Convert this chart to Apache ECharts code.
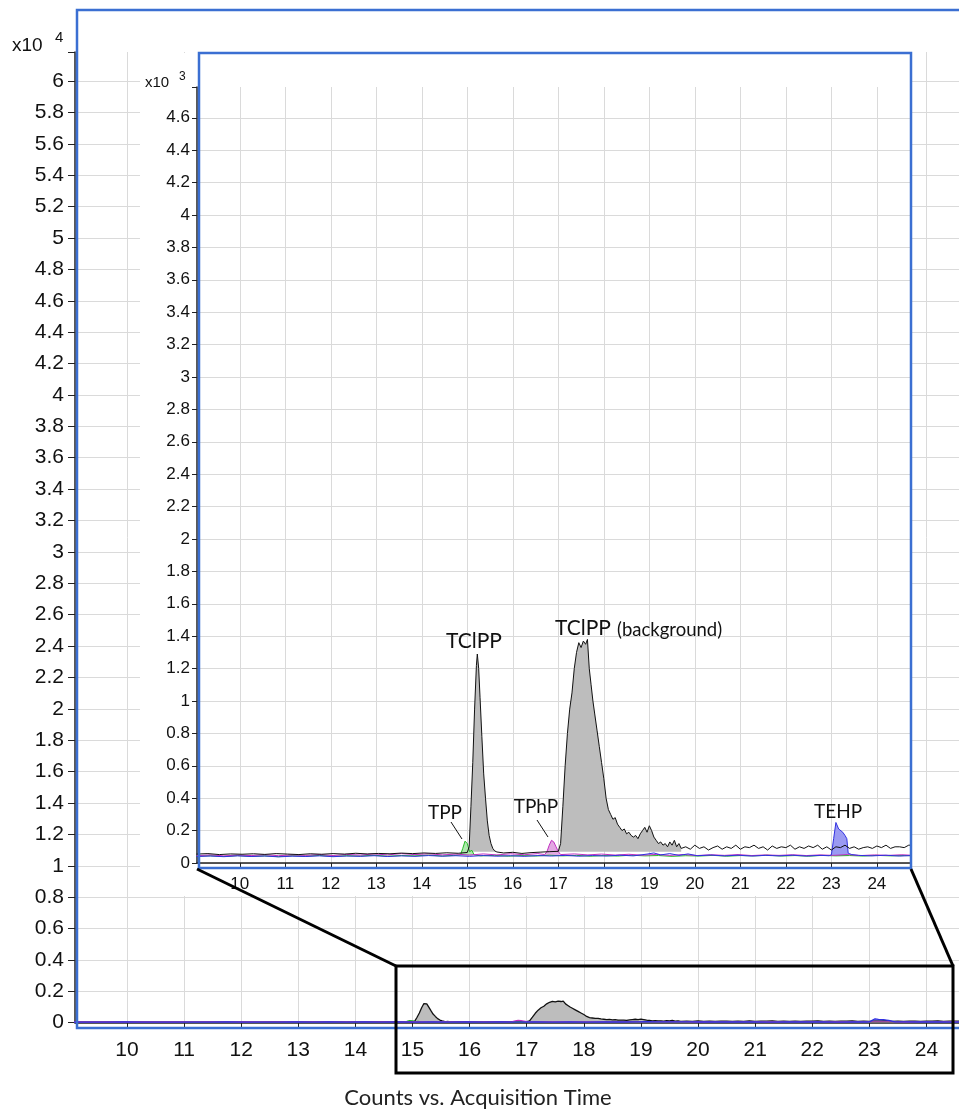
<!DOCTYPE html>
<html>
<head>
<meta charset="utf-8">
<script src="https://cdn.jsdelivr.net/npm/echarts@6/dist/echarts.min.js"></script>
<style>html,body{margin:0;padding:0;background:#fff}#c{width:959px;height:1110px}</style>
</head>
<body>
<div id="c"></div>
<script>
// ---------- DATA (inset units: x10^3 counts; main chart shows the same traces in x10^4 counts) ----------
const xTickLabels = [10, 11, 12, 13, 14, 15, 16, 17, 18, 19, 20, 21, 22, 23, 24];
const mainYTickLabels = [0, 0.2, 0.4, 0.6, 0.8, 1, 1.2, 1.4, 1.6, 1.8, 2, 2.2, 2.4, 2.6, 2.8, 3, 3.2, 3.4, 3.6, 3.8, 4, 4.2, 4.4, 4.6, 4.8, 5, 5.2, 5.4, 5.6, 5.8, 6];
const insetYTickLabels = [0, 0.2, 0.4, 0.6, 0.8, 1, 1.2, 1.4, 1.6, 1.8, 2, 2.2, 2.4, 2.6, 2.8, 3, 3.2, 3.4, 3.6, 3.8, 4, 4.2, 4.4, 4.6];

// TCIPP ion trace (black)
const tcippTrace = [
  [9.05,0.055],[9.3,0.058],[9.55,0.052],[9.8,0.056],[10.05,0.054],[10.3,0.057],[10.55,0.053],[10.8,0.058],
  [11.05,0.055],[11.3,0.052],[11.55,0.057],[11.8,0.054],[12.05,0.058],[12.3,0.055],[12.55,0.06],[12.8,0.056],
  [13.05,0.059],[13.3,0.057],[13.55,0.061],[13.8,0.058],[14.05,0.062],[14.3,0.059],[14.55,0.063],[14.8,0.06],
  [15.0,0.065],[15.04,0.1],[15.08,0.35],[15.12,0.62],[15.16,0.95],[15.2,1.22],[15.22,1.29],[15.25,1.2],
  [15.28,1.02],[15.32,0.78],[15.36,0.55],[15.4,0.4],[15.44,0.26],[15.48,0.17],[15.52,0.12],[15.56,0.09],
  [15.6,0.075],[15.65,0.068],[15.8,0.062],[16.0,0.066],[16.2,0.059],[16.4,0.064],[16.6,0.067],[16.8,0.07],
  [17.0,0.072],[17.05,0.12],[17.1,0.35],[17.15,0.6],[17.2,0.8],[17.25,0.95],[17.3,1.05],[17.35,1.2],
  [17.4,1.3],[17.45,1.36],[17.5,1.33],[17.55,1.37],[17.6,1.35],[17.64,1.38],[17.68,1.2],[17.72,1.1],
  [17.76,1.0],[17.8,0.92],[17.85,0.82],[17.9,0.72],[17.95,0.62],[18.0,0.52],[18.05,0.4],[18.1,0.33],
  [18.15,0.3],[18.2,0.27],[18.25,0.28],[18.3,0.24],[18.35,0.22],[18.4,0.2],[18.45,0.21],[18.5,0.18],
  [18.55,0.19],[18.6,0.17],[18.65,0.16],[18.7,0.17],[18.75,0.15],[18.8,0.18],[18.85,0.2],[18.9,0.22],
  [18.95,0.19],[19.0,0.23],[19.05,0.2],[19.1,0.16],[19.15,0.14],[19.2,0.12],[19.25,0.13],[19.3,0.11],
  [19.35,0.12],[19.4,0.1],[19.45,0.13],[19.5,0.11],[19.55,0.14],[19.6,0.1],[19.65,0.12],[19.7,0.09],
  [19.8,0.1],[19.9,0.085],[20.0,0.11],[20.1,0.09],[20.2,0.1],[20.3,0.08],[20.4,0.095],[20.5,0.105],
  [20.6,0.085],[20.7,0.1],[20.8,0.09],[20.9,0.11],[21.0,0.085],[21.1,0.1],[21.2,0.095],[21.3,0.11],
  [21.4,0.09],[21.5,0.1],[21.6,0.08],[21.7,0.105],[21.8,0.09],[21.9,0.1],[22.0,0.095],[22.1,0.11],
  [22.2,0.085],[22.3,0.1],[22.4,0.09],[22.5,0.105],[22.6,0.095],[22.7,0.11],[22.8,0.085],[22.9,0.1],
  [23.0,0.08],[23.1,0.1],[23.2,0.095],[23.3,0.11],[23.4,0.09],[23.5,0.1],[23.6,0.085],[23.7,0.095],
  [23.8,0.1],[23.9,0.09],[24.0,0.105],[24.1,0.095],[24.2,0.11],[24.3,0.09],[24.4,0.1],[24.5,0.1],
  [24.6,0.095],[24.7,0.11],[24.75,0.11]
];
// TPP trace (green)
const tppTrace = [
  [9.05,0.042],[9.35,0.045],[9.65,0.04],[9.95,0.046],[10.25,0.041],[10.55,0.044],[10.85,0.039],[11.15,0.045],
  [11.45,0.042],[11.75,0.047],[12.05,0.041],[12.35,0.045],[12.65,0.043],[12.95,0.048],[13.25,0.042],[13.55,0.046],
  [13.85,0.044],[14.15,0.049],[14.45,0.043],[14.7,0.047],[14.85,0.05],[14.9,0.09],[14.95,0.135],[15.0,0.12],
  [15.05,0.07],[15.1,0.078],[15.15,0.05],[15.3,0.044],[15.6,0.047],[15.9,0.042],[16.2,0.046],[16.5,0.043],
  [16.8,0.048],[17.1,0.044],[17.4,0.047],[17.7,0.042],[18.0,0.046],[18.3,0.043],[18.6,0.048],[18.9,0.044],
  [19.2,0.046],[19.5,0.041],[19.8,0.045],[20.1,0.043],[20.4,0.047],[20.7,0.042],[21.0,0.046],[21.3,0.044],
  [21.6,0.048],[21.9,0.043],[22.2,0.046],[22.5,0.042],[22.8,0.047],[23.1,0.044],[23.4,0.046],[23.7,0.043],
  [24.0,0.047],[24.3,0.044],[24.6,0.046],[24.75,0.045]
];
// TPhP trace (magenta)
const tphpTrace = [
  [9.05,0.045],[9.35,0.05],[9.65,0.044],[9.95,0.049],[10.25,0.046],[10.55,0.051],[10.85,0.045],[11.15,0.05],
  [11.45,0.047],[11.75,0.052],[12.05,0.046],[12.35,0.053],[12.65,0.049],[12.95,0.056],[13.25,0.05],[13.55,0.058],
  [13.85,0.052],[14.15,0.057],[14.45,0.05],[14.75,0.055],[15.05,0.049],[15.35,0.056],[15.65,0.05],[15.95,0.057],
  [16.25,0.051],[16.55,0.058],[16.7,0.052],[16.75,0.07],[16.8,0.11],[16.85,0.14],[16.9,0.13],[16.95,0.1],
  [17.0,0.07],[17.05,0.052],[17.35,0.056],[17.65,0.05],[17.95,0.055],[18.25,0.049],[18.55,0.054],[18.85,0.048],
  [19.15,0.053],[19.45,0.047],[19.75,0.052],[20.05,0.046],[20.35,0.051],[20.65,0.047],[20.95,0.052],[21.25,0.046],
  [21.55,0.05],[21.85,0.047],[22.15,0.051],[22.45,0.046],[22.75,0.05],[23.05,0.047],[23.35,0.052],[23.65,0.046],
  [23.95,0.05],[24.25,0.047],[24.55,0.051],[24.75,0.048]
];
// TEHP trace (blue)
const tehpTrace = [
  [9.05,0.04],[9.35,0.043],[9.65,0.039],[9.95,0.044],[10.25,0.04],[10.55,0.043],[10.85,0.038],[11.15,0.042],
  [11.45,0.04],[11.75,0.044],[12.05,0.039],[12.35,0.043],[12.65,0.041],[12.95,0.045],[13.25,0.04],[13.55,0.044],
  [13.85,0.041],[14.15,0.046],[14.45,0.042],[14.75,0.045],[15.05,0.041],[15.35,0.046],[15.65,0.042],[15.95,0.045],
  [16.25,0.041],[16.55,0.046],[16.85,0.043],[17.15,0.047],[17.45,0.042],[17.75,0.046],[18.05,0.043],[18.35,0.048],
  [18.65,0.044],[18.95,0.055],[19.1,0.062],[19.25,0.05],[19.45,0.058],[19.65,0.047],[19.85,0.056],[20.05,0.045],
  [20.35,0.049],[20.65,0.044],[20.95,0.048],[21.25,0.043],[21.55,0.047],[21.85,0.044],[22.15,0.048],[22.45,0.043],
  [22.75,0.047],[22.95,0.045],[23.0,0.05],[23.05,0.15],[23.1,0.25],[23.13,0.26],[23.16,0.21],[23.2,0.2],
  [23.25,0.19],[23.3,0.17],[23.34,0.15],[23.37,0.06],[23.45,0.052],[23.6,0.047],[23.9,0.044],[24.2,0.048],
  [24.5,0.043],[24.75,0.046]
];
// integrated peak windows (retention time) and their baselines (x10^3 counts)
const tcippWindows = [[15.0, 15.65], [17.0, 19.7]];
const tppWindows = [[14.85, 15.15]];
const tphpWindows = [[16.7, 17.05]];
const tehpWindows = [[23.0, 23.37]];
const peakBaselines = { tcipp: 0.07, tpp: 0.045, tphp: 0.05, tehp: 0.045 };

// ---------- CHART ----------
const BLUE = '#3b6fd2';
const AXF = 'Liberation Sans';
const ANF = 'Lato';
const chart = echarts.init(document.getElementById('c'));

function pickLabel(list) {
  return function (v) {
    for (const t of list) { if (Math.abs(t - v) < 1e-6) return String(t); }
    return '';
  };
}
function scaled(arr, k) { return arr.map(p => [p[0], p[1] * k]); }
function windowed(arr, wins, k) {
  return arr.map(p => wins.some(w => p[0] >= w[0] - 1e-9 && p[0] <= w[1] + 1e-9) ? [p[0], p[1] * k] : [p[0], '-']);
}

const traces = [
  { name: 'TCIPP', data: tcippTrace, wins: tcippWindows, base: peakBaselines.tcipp, line: '#111111', fill: '#bdbdbd' },
  { name: 'TPP', data: tppTrace, wins: tppWindows, base: peakBaselines.tpp, line: '#22bb22', fill: '#aee8ae' },
  { name: 'TPhP', data: tphpTrace, wins: tphpWindows, base: peakBaselines.tphp, line: '#c030c0', fill: '#e2a8e2' },
  { name: 'TEHP', data: tehpTrace, wins: tehpWindows, base: peakBaselines.tehp, line: '#3030e0', fill: '#9a9af2' }
];

function buildSeries(axisIdx, k, zFill, zLine, lineOrder, lw) {
  const out = [];
  traces.forEach(t => {
    out.push({
      type: 'line', name: t.name + ' area', xAxisIndex: axisIdx, yAxisIndex: axisIdx,
      data: windowed(t.data, t.wins, k), showSymbol: false, symbol: 'none', connectNulls: false,
      lineStyle: { width: 0 }, areaStyle: { color: t.fill, opacity: 1, origin: t.base * k },
      z: zFill, silent: true, animation: false
    });
  });
  lineOrder.forEach(i => {
    const t = traces[i];
    out.push({
      type: 'line', name: t.name, xAxisIndex: axisIdx, yAxisIndex: axisIdx,
      data: scaled(t.data, k), showSymbol: false, symbol: 'none',
      lineStyle: { width: lw, color: t.line }, z: zLine, silent: true, animation: false
    });
  });
  return out;
}

const splitStyle = { lineStyle: { color: '#dadada', width: 1 } };

const option = {
  animation: false,
  backgroundColor: '#ffffff',
  grid: [
    { left: 75, right: 0, top: 52, bottom: 87.3 },
    { left: 197, right: 48, top: 87, bottom: 247 }
  ],
  xAxis: [
    {
      type: 'value', gridIndex: 0, min: 9.09, max: 24.57, splitNumber: 15, minInterval: 1, maxInterval: 1,
      offset: 8, z: 0,
      axisLine: { lineStyle: { color: '#222', width: 1.5 } },
      axisTick: { length: 5, lineStyle: { color: '#222' } },
      axisLabel: { formatter: pickLabel(xTickLabels), color: '#111', fontSize: 21, fontFamily: AXF, margin: 9, showMinLabel: false, showMaxLabel: false },
      splitLine: Object.assign({ show: true, showMinLine: false, showMaxLine: false }, splitStyle)
    },
    {
      type: 'value', gridIndex: 1, min: 9.06, max: 24.75, splitNumber: 15, minInterval: 1, maxInterval: 1,
      offset: 6, z: 11,
      axisLine: { lineStyle: { color: '#222', width: 1.5 } },
      axisTick: { length: 4, lineStyle: { color: '#222' } },
      axisLabel: { formatter: pickLabel(xTickLabels), color: '#111', fontSize: 17, fontFamily: AXF, margin: 7, showMinLabel: false, showMaxLabel: false },
      splitLine: Object.assign({ show: true, showMinLine: false, showMaxLine: false }, splitStyle)
    }
  ],
  yAxis: [
    {
      type: 'value', gridIndex: 0, min: 0, max: 6.185, interval: 0.2, z: 0,
      axisLine: { show: true, lineStyle: { color: '#222', width: 1.5 } },
      axisTick: { show: true, length: 7, lineStyle: { color: '#222' } },
      axisLabel: { formatter: pickLabel(mainYTickLabels), color: '#111', fontSize: 21, fontFamily: AXF, margin: 11 },
      splitLine: Object.assign({ show: true, showMaxLine: false }, splitStyle)
    },
    {
      type: 'value', gridIndex: 1, min: 0, max: 4.79, interval: 0.2, z: 11,
      axisLine: { show: true, lineStyle: { color: '#222', width: 1.5 } },
      axisTick: { show: true, length: 5, lineStyle: { color: '#222' } },
      axisLabel: { formatter: pickLabel(insetYTickLabels), color: '#111', fontSize: 17, fontFamily: AXF, margin: 7 },
      splitLine: Object.assign({ show: true, showMaxLine: false }, splitStyle)
    }
  ],
  series: [].concat(
    buildSeries(0, 0.1, 2, 3, [0, 1, 2, 3], 1.3),
    buildSeries(1, 1, 12, 13, [1, 2, 3, 0], 1)
  ),
  graphic: [
    // main plot frame
    { type: 'rect', z: 5, silent: true, shape: { x: 77, y: 10, width: 920, height: 1018 }, style: { fill: 'none', stroke: BLUE, lineWidth: 2.5 } },
    // inset backdrop + frame
    { type: 'rect', z: 10, silent: true, shape: { x: 140, y: 53, width: 771, height: 843 }, style: { fill: '#ffffff' } },
    { type: 'rect', z: 14, silent: true, shape: { x: 199, y: 53, width: 712, height: 815 }, style: { fill: 'none', stroke: BLUE, lineWidth: 2.5 } },
    // exponent labels
    { type: 'text', z: 5, x: 12, y: 46, style: { text: 'x10', fontSize: 19, fontFamily: AXF, fill: '#111', verticalAlign: 'middle' } },
    { type: 'text', z: 5, x: 55, y: 38, style: { text: '4', fontSize: 15, fontFamily: AXF, fill: '#111', verticalAlign: 'middle' } },
    { type: 'text', z: 15, x: 145, y: 83, style: { text: 'x10', fontSize: 15, fontFamily: AXF, fill: '#111', verticalAlign: 'middle' } },
    { type: 'text', z: 15, x: 179, y: 77, style: { text: '3', fontSize: 12, fontFamily: AXF, fill: '#111', verticalAlign: 'middle' } },
    // zoom box + connectors
    { type: 'rect', z: 20, silent: true, shape: { x: 396, y: 966, width: 557, height: 107 }, style: { fill: 'none', stroke: '#000', lineWidth: 3 } },
    { type: 'line', z: 20, silent: true, shape: { x1: 197, y1: 869, x2: 396, y2: 966 }, style: { stroke: '#000', lineWidth: 3 } },
    { type: 'line', z: 20, silent: true, shape: { x1: 911, y1: 869, x2: 953, y2: 966 }, style: { stroke: '#000', lineWidth: 3 } },
    // peak annotations
    { type: 'text', z: 20, x: 474, y: 641, style: { text: 'TClPP', fontSize: 21, fontFamily: ANF, fill: '#111', align: 'center', verticalAlign: 'middle' } },
    { type: 'text', z: 20, x: 583, y: 628, style: { text: 'TClPP', fontSize: 21, fontFamily: ANF, fill: '#111', align: 'center', verticalAlign: 'middle' } },
    { type: 'text', z: 20, x: 617, y: 630, style: { text: '(background)', fontSize: 18.5, fontFamily: ANF, fill: '#111', align: 'left', verticalAlign: 'middle' } },
    { type: 'text', z: 20, x: 445, y: 813, style: { text: 'TPP', fontSize: 19, fontFamily: ANF, fill: '#111', align: 'center', verticalAlign: 'middle' } },
    { type: 'text', z: 20, x: 536, y: 807, style: { text: 'TPhP', fontSize: 19, fontFamily: ANF, fill: '#111', align: 'center', verticalAlign: 'middle' } },
    { type: 'text', z: 20, x: 838, y: 812, style: { text: 'TEHP', fontSize: 19, fontFamily: ANF, fill: '#111', align: 'center', verticalAlign: 'middle' } },
    { type: 'line', z: 20, silent: true, shape: { x1: 451, y1: 822, x2: 462, y2: 839 }, style: { stroke: '#111', lineWidth: 1 } },
    { type: 'line', z: 20, silent: true, shape: { x1: 537, y1: 820, x2: 548, y2: 837 }, style: { stroke: '#111', lineWidth: 1 } },
    // axis title
    { type: 'text', z: 5, x: 478, y: 1098, style: { text: 'Counts vs. Acquisition Time', fontSize: 22, fontFamily: ANF, fill: '#222', align: 'center', verticalAlign: 'middle' } }
  ]
};
chart.setOption(option);
</script>
</body>
</html>
